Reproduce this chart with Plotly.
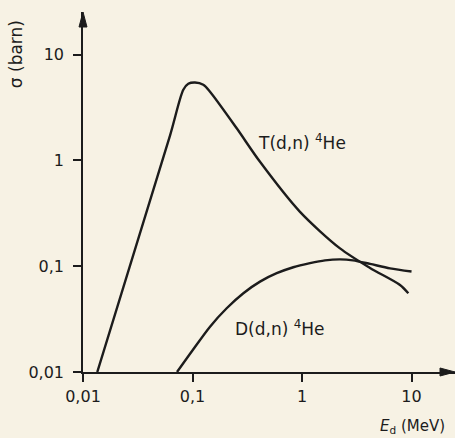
import plotly.graph_objects as go

# T(d,n)4He cross section (barn) vs deuteron energy (MeV)
t_energy = [0.0135, 0.0623, 0.0824, 0.0915, 0.1054, 0.1255, 0.1445, 0.2533, 0.4134,
            0.9587, 2.223, 4.178, 7.852, 9.35]
t_sigma = [0.01, 1.717, 4.656, 5.305, 5.458, 5.191, 4.457, 2.012, 0.970,
           0.3264, 0.1474, 0.0963, 0.0665, 0.0555]

# D(d,n)4He
d_energy = [0.0722, 0.1006, 0.1445, 0.2052, 0.2914, 0.4134, 0.5873, 0.8327, 1.183, 1.622,
            2.223, 2.923, 4.178, 6.363, 10.0]
d_sigma = [0.01, 0.01615, 0.02683, 0.04005, 0.05555, 0.07148, 0.08586, 0.0978, 0.1068, 0.1135,
           0.116, 0.1135, 0.1051, 0.0953, 0.089]

tick_vals = [0.01, 0.1, 1, 10]
tick_text = ["0,01", "0,1", "1", "10"]

ink = "#1c1c1c"
paper_bg = "#f7f2e4"
font_family = "DejaVu Sans"

fig = go.Figure()
fig.add_trace(go.Scatter(x=t_energy, y=t_sigma, mode="lines",
                         line=dict(color=ink, width=2.4, shape="spline", smoothing=0.8),
                         showlegend=False, hoverinfo="skip"))
fig.add_trace(go.Scatter(x=d_energy, y=d_sigma, mode="lines",
                         line=dict(color=ink, width=2.4, shape="spline", smoothing=0.8),
                         showlegend=False, hoverinfo="skip"))

axis_common = dict(
    type="log", showgrid=False, zeroline=False, showline=True,
    linecolor=ink, linewidth=1.6, ticks="outside", ticklen=8, tickwidth=1.6,
    tickcolor=ink, tickvals=tick_vals, ticktext=tick_text,
    tickfont=dict(family=font_family, size=16, color=ink),
)

fig.update_layout(
    width=455, height=438,
    margin=dict(l=83, r=0, t=12, b=66),
    paper_bgcolor=paper_bg, plot_bgcolor=paper_bg,
    xaxis=dict(range=[-2, 1.397], ticklabelstandoff=1, **axis_common),
    yaxis=dict(range=[-2, 1.403], ticklabelstandoff=6, **axis_common),
    font=dict(family=font_family, color=ink),
)

# slender arrowheads at the axis ends (paper coordinates)
fig.add_shape(type="path", xref="paper", yref="paper",
              path="M 1 0 L 0.9597 0.0111 L 0.9597 -0.0111 Z",
              fillcolor=ink, line=dict(color=ink, width=1))
fig.add_shape(type="path", xref="paper", yref="paper",
              path="M 0 1 L 0.01075 0.9583 L -0.01075 0.9583 Z",
              fillcolor=ink, line=dict(color=ink, width=1))

annotations = [
    dict(x=-0.180, y=0.883, xref="paper", yref="paper", text="σ (barn)",
         xanchor="center", yanchor="middle",
         textangle=-90, showarrow=False, font=dict(size=17, color=ink)),
    dict(x=0.885, y=-0.152, xref="paper", yref="paper",
         xanchor="center", yanchor="middle",
         text="<i>E</i><sub>d</sub> (MeV)", showarrow=False,
         font=dict(size=15, color=ink)),
    dict(x=0.589, y=0.639, xref="paper", yref="paper",
         xanchor="center", yanchor="middle",
         text="T(d,n) <sup>4</sup>He", showarrow=False, font=dict(size=17, color=ink)),
    dict(x=0.530, y=0.122, xref="paper", yref="paper",
         xanchor="center", yanchor="middle",
         text="D(d,n) <sup>4</sup>He", showarrow=False, font=dict(size=17, color=ink)),
]
fig.update_layout(annotations=annotations)

fig.write_html("out.html")
